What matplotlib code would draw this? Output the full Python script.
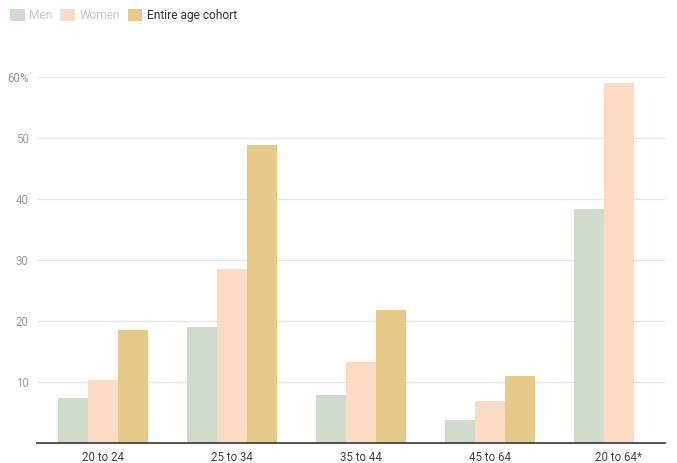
import matplotlib
matplotlib.use("Agg")
import matplotlib.pyplot as plt
from matplotlib.patches import Patch
import numpy as np

plt.rcParams['font.family'] = ['Roboto', 'DejaVu Sans']

categories = ["20 to 24", "25 to 34", "35 to 44", "45 to 64", "20 to 64*"]
men = [7.4, 19.0, 7.9, 3.8, 38.4]
women = [10.3, 28.5, 13.3, 6.9, 59.0]
entire = [18.5, 48.9, 21.8, 11.0, None]
series_names = ["Men", "Women", "Entire age cohort"]
colors = ["#d0dccb", "#f9dcc3", "#e6ca8a"]
y_ticks = [10, 20, 30, 40, 50, 60]
y_tick_labels = ["10", "20", "30", "40", "50", "60%"]

fig = plt.figure(figsize=(6.77, 4.63), dpi=100)
ax = fig.add_axes([37 / 677, 20 / 463, 628 / 677, 366 / 463])

x = np.arange(len(categories))
width = 0.233
for k, (vals, col) in enumerate(zip([men, women, entire], colors)):
    xs = [xi + (k - 1) * width for xi, v in zip(x, vals) if v is not None]
    hs = [v for v in vals if v is not None]
    ax.bar(xs, hs, width=width, color=col, zorder=3, clip_on=False)

ax.set_xlim(-0.51, 4.357)
ax.set_ylim(0, 60)
ax.set_xticks(x)
ax.set_xticklabels(categories, fontsize=8.3, color="#444444")
ax.set_yticks(y_ticks)
ax.set_yticklabels(y_tick_labels, fontsize=8.3, color="#9a9a9a")
ax.tick_params(axis="both", length=0)
ax.tick_params(axis="x", pad=6)
ax.tick_params(axis="y", pad=6)
ax.grid(axis="y", color="#e6e6e6", linewidth=0.9, zorder=0)
for side in ["top", "right", "left"]:
    ax.spines[side].set_visible(False)
ax.spines["bottom"].set_color("#333333")
ax.spines["bottom"].set_linewidth(1.2)
ax.spines["bottom"].set_zorder(4)

handles = [Patch(facecolor=c, edgecolor="none") for c in colors]
leg = fig.legend(handles, series_names, loc="upper left",
                 bbox_to_anchor=(0.002, 1.0), ncol=3, frameon=False,
                 fontsize=8.6, handlelength=1.2, handleheight=1.2,
                 handletextpad=0.4, columnspacing=0.65, borderaxespad=0.35)
text_colors = ["#c8c8c8", "#c8c8c8", "#333333"]
for t, c in zip(leg.get_texts(), text_colors):
    t.set_color(c)

fig.savefig("out.png", dpi=100)
